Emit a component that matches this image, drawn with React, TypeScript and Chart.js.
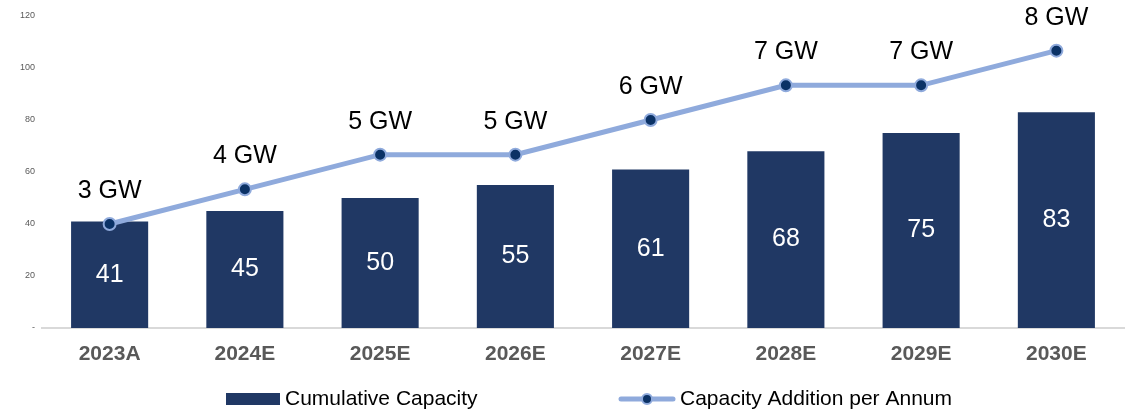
import React, { useEffect, useRef } from "react";
import { Chart, registerables } from "chart.js";

Chart.register(...registerables);

const categories = ["2023A", "2024E", "2025E", "2026E", "2027E", "2028E", "2029E", "2030E"];
const cumulativeCapacity = [41, 45, 50, 55, 61, 68, 75, 83];
const additionPerAnnum = [3, 4, 5, 5, 6, 7, 7, 8];
const yTicks = [0, 20, 40, 60, 80, 100, 120];

const FONT = "'Liberation Sans', Arial, sans-serif";
const BAR_COLOR = "#203864";
const LINE_COLOR = "#8FAADC";
const POINT_COLOR = "#0B3266";

const labelsPlugin = {
  id: "valueLabels",
  afterDatasetsDraw(chart: any) {
    const ctx = chart.ctx;
    ctx.save();
    const barMeta = chart.getDatasetMeta(0);
    ctx.font = `25px ${FONT}`;
    ctx.fillStyle = "#ffffff";
    ctx.textAlign = "center";
    ctx.textBaseline = "middle";
    barMeta.data.forEach((el: any, i: number) => {
      const y = (el.y + el.base) / 2;
      ctx.fillText(String(cumulativeCapacity[i]), el.x, y);
    });
    const lineMeta = chart.getDatasetMeta(1);
    ctx.font = `25px ${FONT}`;
    ctx.fillStyle = "#000000";
    lineMeta.data.forEach((el: any, i: number) => {
      ctx.fillText(`${additionPerAnnum[i]} GW`, el.x, el.y - 33);
    });
    ctx.restore();
  },
};

const legendPlugin = {
  id: "customLegend",
  afterDraw(chart: any) {
    const ctx = chart.ctx;
    ctx.save();
    const cy = 399;
    ctx.fillStyle = BAR_COLOR;
    ctx.fillRect(226, cy - 6, 54, 12);
    ctx.font = `21px ${FONT}`;
    ctx.fillStyle = "#000000";
    ctx.textAlign = "left";
    ctx.textBaseline = "middle";
    ctx.fillText(chart.data.datasets[0].label, 285, cy);
    ctx.strokeStyle = LINE_COLOR;
    ctx.lineWidth = 5;
    ctx.lineCap = "round";
    ctx.beginPath();
    ctx.moveTo(621, cy);
    ctx.lineTo(673, cy);
    ctx.stroke();
    ctx.beginPath();
    ctx.arc(647, cy, 5, 0, Math.PI * 2);
    ctx.fillStyle = POINT_COLOR;
    ctx.fill();
    ctx.lineWidth = 2;
    ctx.stroke();
    ctx.fillStyle = "#000000";
    ctx.fillText(chart.data.datasets[1].label, 680, cy);
    ctx.restore();
  },
};

export default function App() {
  const canvasRef = useRef<HTMLCanvasElement | null>(null);

  useEffect(() => {
    document.body.style.margin = "0";
    const canvas = canvasRef.current;
    if (!canvas) return;
    const chart = new Chart(canvas, {
      type: "bar",
      data: {
        labels: categories,
        datasets: [
          {
            type: "bar",
            label: "Cumulative Capacity",
            data: cumulativeCapacity,
            backgroundColor: BAR_COLOR,
            categoryPercentage: 1,
            barPercentage: 0.57,
            yAxisID: "y",
            order: 2,
          },
          {
            type: "line",
            label: "Capacity Addition per Annum",
            data: additionPerAnnum,
            borderColor: LINE_COLOR,
            borderWidth: 5,
            pointRadius: 6,
            pointBackgroundColor: POINT_COLOR,
            pointBorderColor: LINE_COLOR,
            pointBorderWidth: 2,
            tension: 0,
            yAxisID: "y2",
            order: 1,
          },
        ] as any,
      },
      options: {
        animation: false,
        responsive: true,
        maintainAspectRatio: false,
        layout: { padding: { top: 16, right: 7, left: 0, bottom: 0 } },
        plugins: { legend: { display: false }, tooltip: { enabled: false } },
        scales: {
          x: {
            grid: { display: false, drawTicks: false },
            border: { display: true, color: "#D9D9D9", width: 2 },
            ticks: {
              padding: 14,
              color: "#595959",
              font: { family: FONT, size: 21, weight: "bold" },
            },
            afterFit(scale: any) {
              scale.height = 85;
            },
          },
          y: {
            min: 0,
            max: 120,
            afterBuildTicks(scale: any) {
              scale.ticks = yTicks.map((v) => ({ value: v }));
            },
            grid: { display: false, drawTicks: false },
            border: { display: false },
            ticks: {
              padding: 7,
              color: "#595959",
              font: { family: FONT, size: 9 },
              callback: (v: any) => (Number(v) === 0 ? "-" : String(v)),
            },
            afterFit(scale: any) {
              scale.width = 42;
            },
          },
          y2: {
            display: false,
            min: 0,
            max: 9,
          },
        },
      } as any,
      plugins: [labelsPlugin, legendPlugin],
    });
    return () => chart.destroy();
  }, []);

  return (
    <div style={{ width: 1132, height: 413, position: "relative" }}>
      <canvas ref={canvasRef} />
    </div>
  );
}
